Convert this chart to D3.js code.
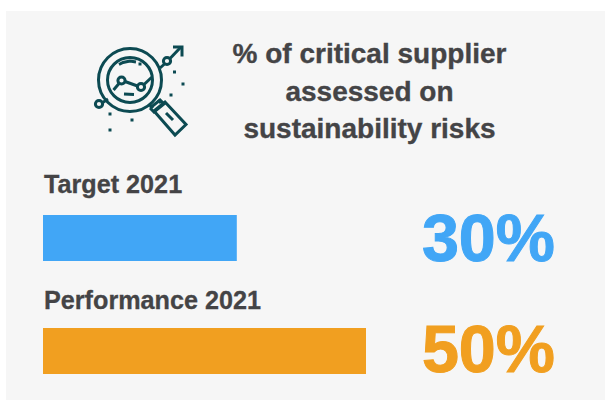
<!DOCTYPE html>
<html>
<head>
<meta charset="utf-8">
<script src="https://cdn.jsdelivr.net/npm/d3@7/dist/d3.min.js"></script>
<style>
html,body{margin:0;padding:0;background:#fff;}
svg{display:block;}
text{font-family:"Liberation Sans",Arial,sans-serif;font-weight:700;}
</style>
</head>
<body>
<script>
// Supplier assessment KPI card
const categories = ["Target 2021", "Performance 2021"];
const values = [30, 50];
const barColors = ["#41a6f6", "#f19f20"];
const titleLines = ["% of critical supplier", "assessed on", "sustainability risks"];

const width = 605, height = 400;
const ink = "#444446", teal = "#0c4a52";

const svg = d3.select("body").append("svg").attr("width", width).attr("height", height);

svg.append("rect").attr("x", 6).attr("y", 11).attr("width", width - 6).attr("height", height - 11).attr("fill", "#f6f6f6");

// Title block
svg.append("g").selectAll("text").data(titleLines).join("text")
  .attr("x", 369.5).attr("y", (d, i) => 63 + i * 37.5)
  .attr("text-anchor", "middle").attr("font-size", 28).attr("fill", ink)
  .attr("stroke", ink).attr("stroke-width", 0.35)
  .text(d => d);

// Bars share one linear scale, so 30 and 50 keep their true proportion
const x = d3.scaleLinear().domain([0, 50]).range([43, 366]);
const rowTops = d3.scaleOrdinal().domain(categories).range([215, 328]);
const labelBase = d3.scaleOrdinal().domain(categories).range([193, 308.5]);
const valueBase = d3.scaleOrdinal().domain(categories).range([261, 372]);
const barHeight = 46;

const rows = svg.append("g").selectAll("g")
  .data(categories.map((c, i) => ({c, v: values[i], color: barColors[i]})))
  .join("g");

rows.append("rect")
  .attr("x", x(0)).attr("y", d => rowTops(d.c))
  .attr("width", d => x(d.v) - x(0)).attr("height", barHeight)
  .attr("fill", d => d.color);

rows.append("text")
  .attr("x", 44).attr("y", d => labelBase(d.c))
  .attr("font-size", 25.2).attr("fill", ink)
  .attr("stroke", ink).attr("stroke-width", 0.3)
  .text(d => d.c);

rows.append("text")
  .attr("x", 555).attr("y", d => valueBase(d.c))
  .attr("text-anchor", "end").attr("font-size", 66.5).attr("fill", d => d.color)
  .attr("stroke", d => d.color).attr("stroke-width", 1)
  .text(d => d.v + "%");

// Magnifying glass over a small trend line
const icon = svg.append("g").attr("fill", "none").attr("stroke", teal).attr("stroke-width", 3);
icon.append("circle").attr("cx", 130).attr("cy", 80).attr("r", 31.5);
icon.append("circle").attr("cx", 130).attr("cy", 80).attr("r", 22.5);
icon.append("circle").attr("cx", 121.5).attr("cy", 80.5).attr("r", 3.6);
icon.append("circle").attr("cx", 141).attr("cy", 87).attr("r", 3.6);
icon.append("circle").attr("cx", 167).attr("cy", 61).attr("r", 3.6);
icon.append("circle").attr("cx", 99).attr("cy", 104).attr("r", 3.6);
const segs = [
  [[113.5,90],[119,83.5]], [[125,81.5],[137.5,86]], [[144,84.5],[152,77]],
  [[160,68],[164.5,64]], [[170,58.5],[181,47]], [[102,103],[108,99]],
  [[119,64.5],[123,62.5],[130,61],[136,62]], [[124,94],[134,94.5]],
  [[150,105],[153,108]], [[158,100],[161,103]]
];
const lineGen = d3.line();
icon.selectAll("path.seg").data(segs).join("path").attr("class", "seg").attr("d", lineGen);
icon.append("path").attr("d", lineGen([[173,47],[182,47],[182,56.5]]));
// Handle of the glass
icon.append("path").attr("d", lineGen([[150,108],[160,100],[164,104],[154,112],[150,108]]));
icon.append("path").attr("d", lineGen([[154,111],[165,102],[186,124.5],[175,135],[154,111]]));
icon.append("path").attr("d", lineGen([[166,113],[173,120]]));

const dots = [[140,64],[174.5,72],[183,84],[171,95],[110,114],[132,120],[110,130]];
svg.append("g").selectAll("rect").data(dots).join("rect")
  .attr("x", d => d[0] - 1.5).attr("y", d => d[1] - 1.5)
  .attr("width", 3).attr("height", 3).attr("fill", teal);
</script>
</body>
</html>
